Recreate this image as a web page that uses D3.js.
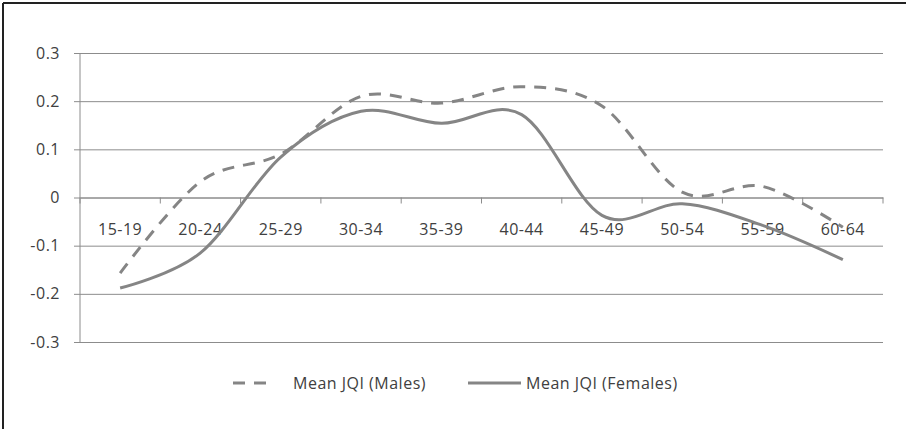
<!DOCTYPE html>
<html>
<head>
<meta charset="utf-8">
<script src="https://cdn.jsdelivr.net/npm/d3@7"></script>
<style>
  body { margin: 0; background: #fff; }
  svg text { font-family: "Open Sans", sans-serif; fill: #404040; letter-spacing: 0.5px; }
</style>
</head>
<body>
<div id="chart"></div>
<script>
// Age groups
var ageGroups = ["15-19", "20-24", "25-29", "30-34", "35-39", "40-44", "45-49", "50-54", "55-59", "60-64"];
// Mean JQI per age group
var malesJQI = [-0.157, 0.033, 0.09, 0.21, 0.196, 0.23, 0.19, 0.011, 0.023, -0.062];
var femalesJQI = [-0.188, -0.115, 0.084, 0.179, 0.154, 0.172, -0.037, -0.013, -0.058, -0.129];
var yTicks = [-0.3, -0.2, -0.1, 0, 0.1, 0.2, 0.3];
var seriesNames = ["Mean JQI (Males)", "Mean JQI (Females)"];

var W = 906, H = 429;
var margin = {top: 53, right: 23, bottom: 87, left: 80};
var width = W - margin.left - margin.right,
    height = H - margin.top - margin.bottom;

var svg = d3.select("#chart")
    .append("svg")
    .attr("width", W)
    .attr("height", H);

// frame (top + left only, like the source)
svg.append("line").attr("x1", 3).attr("x2", W).attr("y1", 3).attr("y2", 3)
    .attr("stroke", "#222").attr("stroke-width", 2);
svg.append("line").attr("x1", 3).attr("x2", 3).attr("y1", 3).attr("y2", H)
    .attr("stroke", "#222").attr("stroke-width", 2);

var g = svg.append("g")
    .attr("transform", "translate(" + margin.left + "," + margin.top + ")");

var x = d3.scaleBand()
    .domain(ageGroups)
    .range([0, width]);

var y = d3.scaleLinear()
    .domain([-0.3, 0.3])
    .range([height, 0]);

// Y axis with gridlines
var yAxis = g.append("g")
    .call(d3.axisLeft(y).tickValues(yTicks).tickSize(-width).tickPadding(20)
        .tickFormat(function(d) { return d === 0 ? "0" : d3.format(".1f")(d).replace("\u2212", "-"); }));
yAxis.select(".domain").remove();
yAxis.selectAll(".tick line").attr("stroke", "#8c8c8c").attr("x1", -6);
yAxis.selectAll(".tick text").style("font-size", "16px");

// left axis line
g.append("line").attr("x1", 0).attr("x2", 0).attr("y1", 0).attr("y2", height)
    .attr("stroke", "#8c8c8c");

// X axis on zero line
var xAxis = g.append("g")
    .attr("transform", "translate(0," + y(0) + ")")
    .call(d3.axisBottom(x).tickSize(0).tickPadding(26));
xAxis.select(".domain").attr("stroke", "#8c8c8c");
xAxis.selectAll(".tick text").style("font-size", "16px");

// tick marks at category boundaries
g.selectAll(".bnd")
    .data(ageGroups.concat(["end"]))
    .enter()
    .append("line")
    .attr("x1", function(d, i) { return i * x.step(); })
    .attr("x2", function(d, i) { return i * x.step(); })
    .attr("y1", y(0))
    .attr("y2", y(0) + 6)
    .attr("stroke", "#8c8c8c");

var line = d3.line()
    .x(function(d, i) { return x(ageGroups[i]) + x.bandwidth() / 2; })
    .y(function(d) { return y(d); })
    .curve(d3.curveCardinal.tension(0));

g.append("path")
    .datum(malesJQI)
    .attr("d", line)
    .attr("fill", "none")
    .attr("stroke", "#858585")
    .attr("stroke-width", 3)
    .attr("stroke-dasharray", "12,9");

g.append("path")
    .datum(femalesJQI)
    .attr("d", line)
    .attr("fill", "none")
    .attr("stroke", "#858585")
    .attr("stroke-width", 3);

// Legend
var leg = svg.append("g");
leg.append("line").attr("x1", 233).attr("x2", 274).attr("y1", 383).attr("y2", 383)
    .attr("stroke", "#858585").attr("stroke-width", 3).attr("stroke-dasharray", "12,9");
leg.append("text").attr("x", 293).attr("y", 389).style("font-size", "16px").text(seriesNames[0]);
leg.append("line").attr("x1", 468).attr("x2", 521).attr("y1", 383).attr("y2", 383)
    .attr("stroke", "#858585").attr("stroke-width", 3);
leg.append("text").attr("x", 526).attr("y", 389).style("font-size", "16px").text(seriesNames[1]);
</script>
</body>
</html>
